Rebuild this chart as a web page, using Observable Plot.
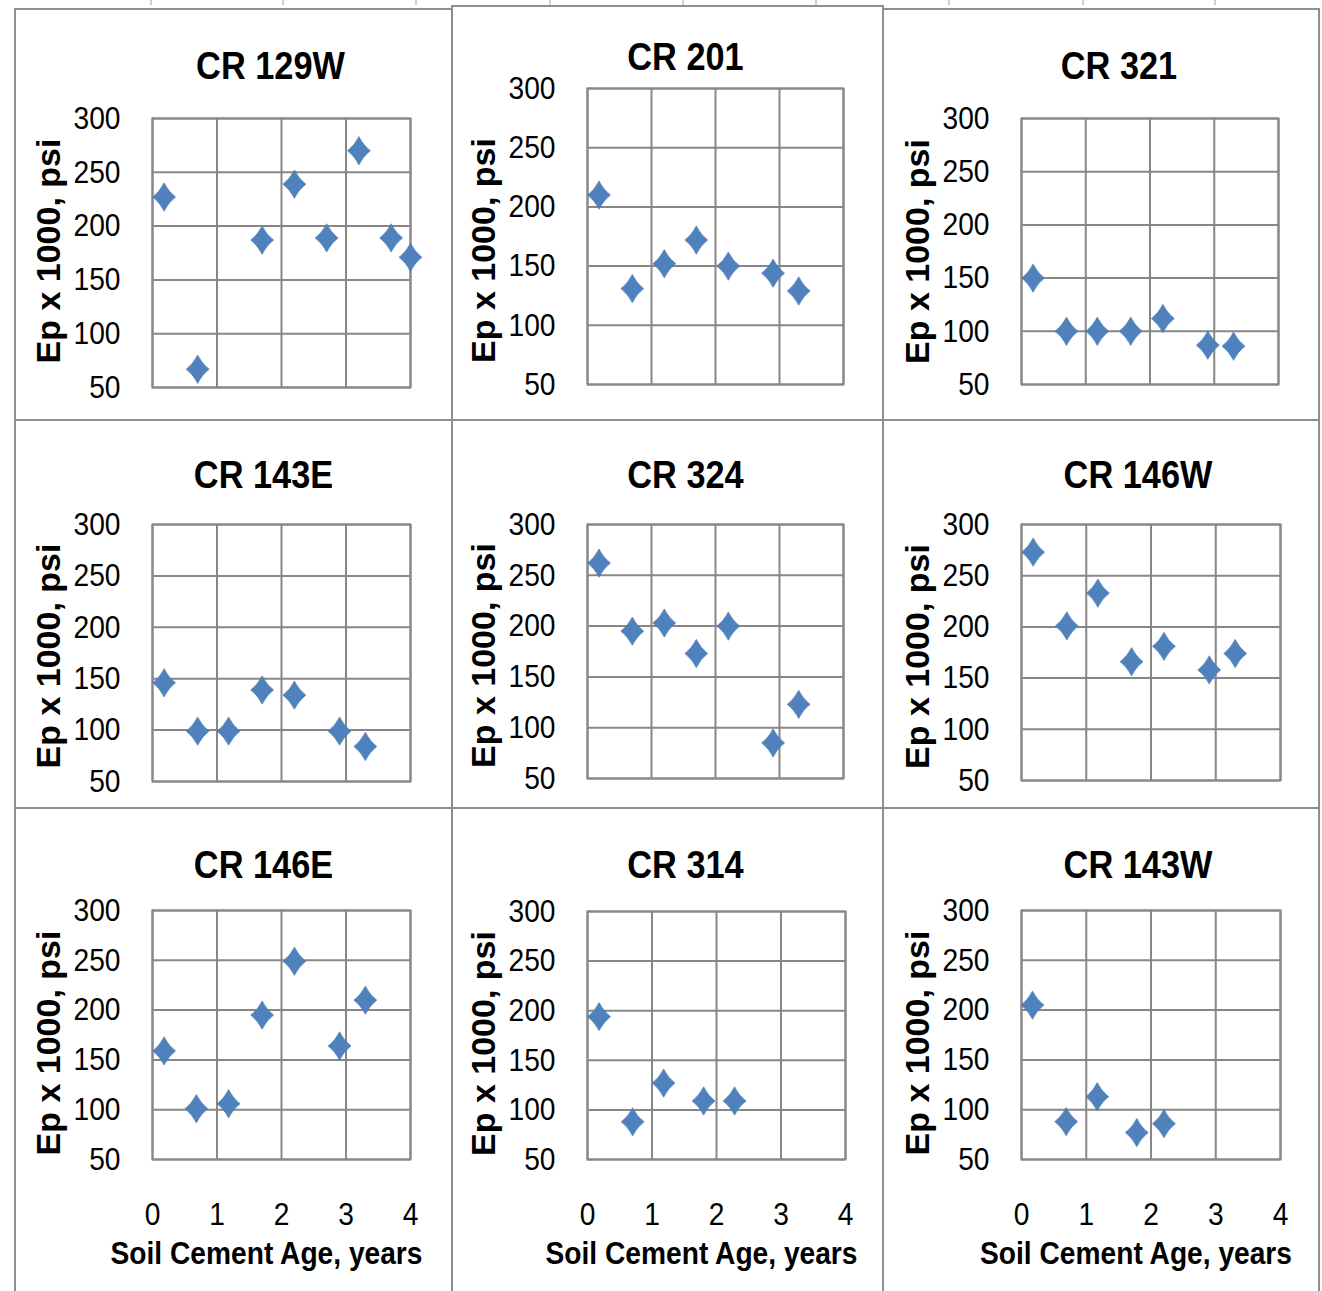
<!DOCTYPE html>
<html><head><meta charset="utf-8">
<script src="https://cdn.jsdelivr.net/npm/d3@7"></script>
<script src="https://cdn.jsdelivr.net/npm/@observablehq/plot@0.6"></script>
<style>
body{margin:0;background:#fff;}
#root{position:relative;width:1322px;height:1291px;background:#fff;overflow:hidden;}
.panel{position:absolute;}
.ln{position:absolute;background:#8e8e8e;}
.tk{position:absolute;background:#d0d0d0;}
</style></head><body><div id="root"></div>
<script>
// ---- data ----
const titles = ["CR 129W","CR 201","CR 321","CR 143E","CR 324","CR 146W","CR 146E","CR 314","CR 143W"];
const age129W = [0.18,0.7,1.7,2.2,2.7,3.2,3.7,4.0];
const ep129W  = [227,67,187,239,189,270,189,171];
const age201 = [0.18,0.7,1.2,1.7,2.2,2.9,3.3];
const ep201  = [210,131,152,172,150,144,129];
const age321 = [0.18,0.7,1.18,1.7,2.2,2.9,3.3];
const ep321  = [150,100,100,100,112,87,86];
const age143E = [0.18,0.7,1.18,1.7,2.2,2.9,3.3];
const ep143E  = [146,99,99,139,134,99,84];
const age324 = [0.18,0.7,1.2,1.7,2.2,2.9,3.3];
const ep324  = [262,195,203,173,200,85,123];
const age146W = [0.18,0.7,1.18,1.7,2.2,2.9,3.3];
const ep146W  = [273,201,233,166,181,158,174];
const age146E = [0.18,0.68,1.18,1.7,2.2,2.9,3.3];
const ep146E  = [159,101,106,195,249,164,210];
const age314 = [0.18,0.7,1.18,1.8,2.28];
const ep314  = [194,88,127,109,109];
const age143W = [0.17,0.69,1.17,1.78,2.2];
const ep143W  = [205,88,113,77,86];
const yTicks = [50,100,150,200,250,300];
const xTicks = [0,1,2,3,4];
const yLabel = "Ep x 1000, psi";
const xLabel = "Soil Cement Age, years";

const series = [
  [age129W, ep129W],[age201, ep201],[age321, ep321],
  [age143E, ep143E],[age324, ep324],[age146W, ep146W],
  [age146E, ep146E],[age314, ep314],[age143W, ep143W]
];

// ---- layout ----
const colX = [0, 450, 880], colW = [450, 430, 442];
const rowY = [0, 420, 808], rowH = [420, 388, 483];
// plot rectangles [left, top, right, bottom]
const rects = [
  [152,118,410,387],[587,88,843,384],[1021,118,1278,384],
  [152,524,410,781],[587,524,843,778],[1021,524,1280,780],
  [152,910,410,1159],[587,911,845,1159],[1021,910,1280,1159]
];
// title offsets [dx, dy] relative to top-center of plot area
const titleOff = [[-11,-52],[-30,-31],[-31,-52],[-18,-49],[-30,-49],[-13,-49],[-18,-45],[-31,-46],[-13,-45]];
const yLabDy = [-2,14,0,3,4,4,8,8,8];

const font = "'Liberation Sans', Arial, sans-serif";
const grey = "#878787";
const squeeze = 0.88;

const diamond = {
  draw(ctx, size) {
    const r = Math.sqrt(size / Math.PI);
    const w = r * 0.85, h = r * 1.05, k = 0.38;
    ctx.moveTo(0, -h);
    ctx.quadraticCurveTo(w * k, -h * k, w, 0);
    ctx.quadraticCurveTo(w * k, h * k, 0, h);
    ctx.quadraticCurveTo(-w * k, h * k, -w, 0);
    ctx.quadraticCurveTo(-w * k, -h * k, 0, -h);
    ctx.closePath();
  }
};

const root = document.getElementById("root");

// panel borders
function line(x, y, w, h, cls) {
  const d = document.createElement("div");
  d.className = cls || "ln";
  Object.assign(d.style, {left: x + "px", top: y + "px", width: w + "px", height: h + "px"});
  root.appendChild(d);
}
line(15, 8, 437, 2); line(452, 5, 431, 2); line(883, 8, 437, 2);
line(15, 419, 1305, 2); line(15, 807, 1305, 2);
line(14, 8, 2, 1283); line(451, 5, 2, 1286); line(882, 5, 2, 1286); line(1318, 8, 2, 1283);
[150,282,415,549,682,815,948,1082,1214].forEach(x => line(x, 0, 2, 5, "tk"));

for (let i = 0; i < 9; i++) {
  const r = Math.floor(i / 3), c = i % 3;
  const cx = colX[c], cy = rowY[r], cw = colW[c], ch = rowH[r];
  const [pl, pt, pr, pb] = rects[i];
  const data = series[i][0].map((a, j) => ({age: a, ep: series[i][1][j]}));
  const bottom = r === 2;
  const marks = [
    Plot.gridY(yTicks, {stroke: grey, strokeOpacity: 1, strokeWidth: 2}),
    Plot.gridX(xTicks, {stroke: grey, strokeOpacity: 1, strokeWidth: 2}),
    Plot.frame({stroke: grey, strokeWidth: 2}),
    Plot.axisY(yTicks, {tickSize: 0, tickPadding: 32, fontSize: 32, fontFamily: font, label: null}),
    Plot.dot(data, {x: "age", y: "ep", symbol: diamond, r: 13.5, fill: "#4F81BD", stroke: "#4676b0", strokeWidth: 0.6}),
    Plot.text([titles[i]], {text: d => d, frameAnchor: "top", dx: titleOff[i][0], dy: titleOff[i][1], lineAnchor: "middle",
      textAnchor: "middle", fontSize: 39, fontWeight: "bold", fontFamily: font, fill: "#000"}),
    Plot.text([yLabel], {text: d => d, frameAnchor: "left", rotate: -90, dx: -103, dy: yLabDy[i], lineAnchor: "middle",
      textAnchor: "middle", fontSize: 34, fontWeight: "bold", fontFamily: font, fill: "#000"})
  ];
  if (bottom) {
    marks.push(Plot.axisX(xTicks, {tickSize: 0, tickPadding: 43, fontSize: 32, fontFamily: font, label: null}));
    marks.push(Plot.text([xLabel], {text: d => d, frameAnchor: "bottom", dx: -15, dy: 94, lineAnchor: "middle",
      textAnchor: "middle", fontSize: 32, fontWeight: "bold", fontFamily: font, fill: "#000"}));
  }
  const svg = Plot.plot({
    width: cw, height: ch,
    marginLeft: pl - cx, marginRight: cx + cw - pr,
    marginTop: pt - cy, marginBottom: cy + ch - pb,
    x: {domain: [0, 4], axis: null},
    y: {domain: [50, 300], axis: null},
    style: {background: "transparent", overflow: "visible", color: "#000"},
    marks
  });
  svg.classList.add("panel");
  svg.style.left = cx + "px";
  svg.style.top = cy + "px";
  svg.style.maxWidth = "none";
  root.appendChild(svg);
  // condensed look of the original (Calibri-like): shorten horizontal texts
  svg.querySelectorAll("text").forEach(el => {
    const t = el.getAttribute("transform") || "";
    if (/rotate/.test(t)) return;
    const len = el.getComputedTextLength();
    if (len > 0) {
      el.setAttribute("textLength", (len * squeeze).toFixed(2));
      el.setAttribute("lengthAdjust", "spacingAndGlyphs");
    }
  });
}
</script></body></html>
